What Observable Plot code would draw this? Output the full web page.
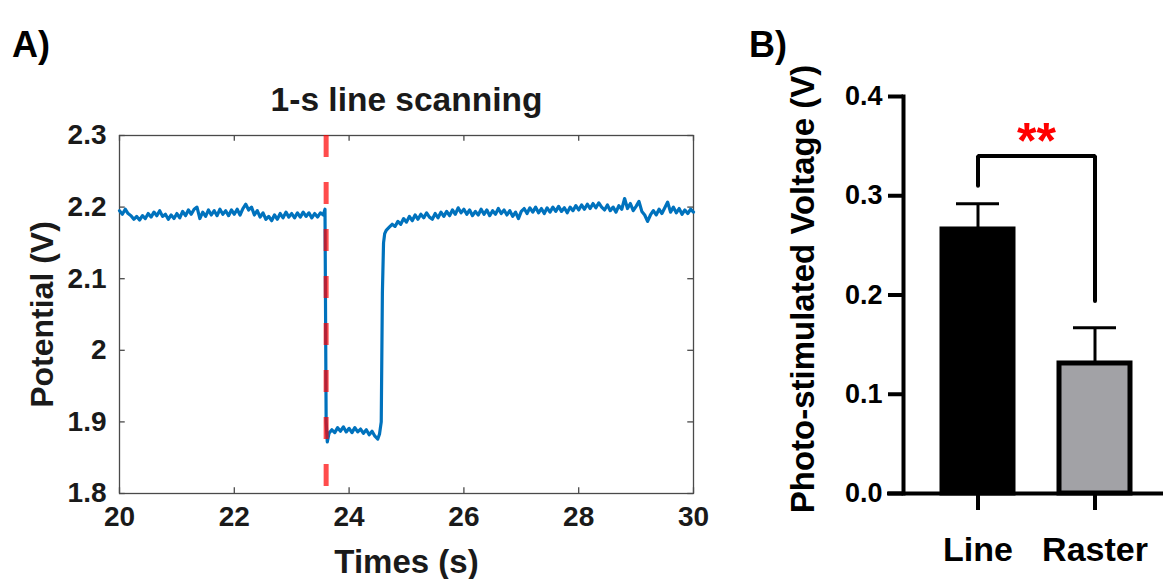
<!DOCTYPE html>
<html>
<head>
<meta charset="utf-8">
<script src="https://cdn.jsdelivr.net/npm/d3@7"></script>
<script src="https://cdn.jsdelivr.net/npm/@observablehq/plot@0.6"></script>
<style>
  html, body { margin: 0; padding: 0; background: #fff; }
  #root { position: relative; width: 1163px; height: 579px; overflow: hidden; background: #fff; }
  .panel { position: absolute; top: 0; }
  .tag { position: absolute; font-family: "Liberation Sans", Arial, sans-serif; font-weight: bold; font-size: 36px; color: #000; line-height: 1; }
</style>
</head>
<body>
<div id="root">
  <div class="tag" style="left:12px; top:27px;">A)</div>
  <div class="tag" style="left:749px; top:27px;">B)</div>
  <div id="panelA" class="panel" style="left:0px;"></div>
  <div id="panelB" class="panel" style="left:720px;"></div>
</div>
<script>
// ---------- Panel A data: 1-s line scanning trace ----------
const timeS = [
  20.00,20.05,20.10,20.15,20.20,20.25,20.30,20.35,20.40,20.45,20.50,20.55,20.60,20.65,20.70,20.75,20.80,20.85,20.90,20.95,
  21.00,21.05,21.10,21.15,21.20,21.25,21.30,21.35,21.40,21.45,21.50,21.55,21.60,21.65,21.70,21.75,21.80,21.85,21.90,21.95,
  22.00,22.05,22.10,22.15,22.20,22.25,22.30,22.35,22.40,22.45,22.50,22.55,22.60,22.65,22.70,22.75,22.80,22.85,22.90,22.95,
  23.00,23.05,23.10,23.15,23.20,23.25,23.30,23.35,23.40,23.45,23.50,23.55,23.58,23.60,23.62,23.65,23.70,23.75,23.80,23.85,
  23.90,23.95,24.00,24.05,24.10,24.15,24.20,24.25,24.30,24.35,24.40,24.45,24.50,24.53,24.56,24.58,24.60,24.62,24.65,24.70,
  24.75,24.80,24.85,24.90,24.95,25.00,25.05,25.10,25.15,25.20,25.25,25.30,25.35,25.40,25.45,25.50,25.55,25.60,25.65,25.70,
  25.75,25.80,25.85,25.90,25.95,26.00,26.05,26.10,26.15,26.20,26.25,26.30,26.35,26.40,26.45,26.50,26.55,26.60,26.65,26.70,
  26.75,26.80,26.85,26.90,26.95,27.00,27.05,27.10,27.15,27.20,27.25,27.30,27.35,27.40,27.45,27.50,27.55,27.60,27.65,27.70,
  27.75,27.80,27.85,27.90,27.95,28.00,28.05,28.10,28.15,28.20,28.25,28.30,28.35,28.40,28.45,28.50,28.55,28.60,28.65,28.70,
  28.75,28.80,28.85,28.90,28.95,29.00,29.05,29.10,29.15,29.20,29.25,29.30,29.35,29.40,29.45,29.50,29.55,29.60,29.65,29.70,
  29.75,29.80,29.85,29.90,29.95,30.00
];
const potentialV = [
  2.195,2.190,2.197,2.191,2.188,2.183,2.187,2.182,2.188,2.184,2.191,2.186,2.193,2.188,2.195,2.187,2.190,2.183,2.189,2.184,
  2.191,2.185,2.194,2.188,2.196,2.190,2.197,2.200,2.184,2.193,2.187,2.196,2.189,2.195,2.188,2.197,2.190,2.195,2.188,2.196,
  2.190,2.197,2.189,2.198,2.204,2.196,2.200,2.189,2.195,2.186,2.192,2.183,2.187,2.181,2.189,2.183,2.191,2.185,2.193,2.186,
  2.191,2.185,2.192,2.186,2.193,2.187,2.192,2.185,2.191,2.186,2.192,2.189,2.197,1.900,1.872,1.884,1.889,1.885,1.892,1.887,
  1.893,1.886,1.891,1.885,1.892,1.886,1.890,1.884,1.889,1.882,1.887,1.880,1.876,1.883,1.900,2.080,2.150,2.163,2.168,2.172,
  2.176,2.173,2.180,2.176,2.184,2.179,2.187,2.181,2.189,2.183,2.190,2.185,2.192,2.186,2.183,2.191,2.185,2.193,2.187,2.194,
  2.188,2.196,2.190,2.199,2.192,2.197,2.190,2.196,2.188,2.194,2.189,2.197,2.190,2.196,2.188,2.195,2.190,2.198,2.191,2.196,
  2.189,2.195,2.187,2.193,2.184,2.194,2.198,2.191,2.199,2.193,2.200,2.192,2.198,2.191,2.199,2.193,2.200,2.194,2.201,2.194,
  2.199,2.192,2.200,2.195,2.202,2.196,2.203,2.197,2.204,2.198,2.205,2.199,2.206,2.200,2.196,2.203,2.195,2.200,2.193,2.202,
  2.197,2.212,2.198,2.205,2.195,2.201,2.208,2.194,2.189,2.180,2.189,2.195,2.189,2.197,2.191,2.199,2.207,2.193,2.200,2.192,
  2.198,2.190,2.196,2.191,2.197,2.193
];
const stimOnsetS = [23.6];
const xTicksA = [20, 22, 24, 26, 28, 30];
const yTicksA = [1.8, 1.9, 2.0, 2.1, 2.2, 2.3];
const titleA = "1-s line scanning";
const xLabelA = "Times (s)";
const yLabelA = "Potential (V)";

// ---------- Panel B data: photo-stimulated voltage ----------
const scanModes = ["Line", "Raster"];
const meanVoltage = [0.266, 0.131];
const semVoltage = [0.026, 0.036];
const barFills = ["#000000", "#a2a2a6"];
const bracketLegs = [0.310, 0.194];
const bracketTop = 0.340;
const sigMark = "**";
const yTicksB = [0, 0.1, 0.2, 0.3, 0.4];
const yLabelB = "Photo-stimulated Voltage (V)";

// ---------- Panel A ----------
const trace = timeS.map((t, i) => ({t, v: potentialV[i]}));
const fontA = "'Liberation Sans', Arial, sans-serif";
const inkA = "#1a1a1a";
const frameInk = "#4a4a4a";

const plotA = Plot.plot({
  width: 720,
  height: 579,
  marginLeft: 119,
  marginRight: 27,
  marginTop: 135,
  marginBottom: 86,
  style: {fontFamily: fontA, color: inkA, background: "transparent", overflow: "visible"},
  x: {domain: [20, 30]},
  y: {domain: [1.8, 2.3]},
  marks: [
    Plot.frame({stroke: frameInk, strokeWidth: 1.3}),
    // inward ticks (bottom/top/left/right)
    Plot.ruleX(xTicksA, {x: d => d, y1: 1.8, y2: 1.808, stroke: frameInk, strokeWidth: 1.3}),
    Plot.ruleX(xTicksA, {x: d => d, y1: 2.3, y2: 2.292, stroke: frameInk, strokeWidth: 1.3}),
    Plot.ruleY(yTicksA, {y: d => d, x1: 20, x2: 20.1, stroke: frameInk, strokeWidth: 1.3}),
    Plot.ruleY(yTicksA, {y: d => d, x1: 30, x2: 29.9, stroke: frameInk, strokeWidth: 1.3}),
    Plot.axisX({ticks: xTicksA, tickSize: 0, tickPadding: 13, label: null, fontSize: 28, fontWeight: "bold", tickFormat: d => String(d)}),
    Plot.axisY({ticks: yTicksA, tickSize: 0, tickPadding: 13, label: null, fontSize: 28, fontWeight: "bold", tickFormat: d => String(d)}),
    Plot.line(trace, {x: "t", y: "v", stroke: "#0072BD", strokeWidth: 3.2, strokeLinejoin: "round"}),
    Plot.ruleX(stimOnsetS, {x: d => d, stroke: "#ff0000", strokeOpacity: 0.7, strokeWidth: 5, strokeDasharray: "22,25"}),
    Plot.text([titleA], {frameAnchor: "top", dy: -35, lineAnchor: "middle", textAnchor: "middle", fontSize: 33.5, fontWeight: "bold", fill: inkA}),
    Plot.text([xLabelA], {frameAnchor: "bottom", dy: 69, lineAnchor: "middle", textAnchor: "middle", fontSize: 33, fontWeight: "bold", fill: inkA}),
    Plot.text([yLabelA], {frameAnchor: "left", dx: -77, rotate: -90, lineAnchor: "middle", textAnchor: "middle", fontSize: 32, fontWeight: "bold", fill: inkA})
  ]
});
document.getElementById("panelA").appendChild(plotA);

// ---------- Panel B ----------
const bars = scanModes.map((m, i) => ({mode: m, mean: meanVoltage[i], top: meanVoltage[i] + semVoltage[i], fill: barFills[i]}));
const bracket = [
  {mode: scanModes[0], y: bracketLegs[0]},
  {mode: scanModes[0], y: bracketTop},
  {mode: scanModes[1], y: bracketTop},
  {mode: scanModes[1], y: bracketLegs[1]}
];
const fontB = "'Liberation Sans', Arial, sans-serif";

const plotB = Plot.plot({
  width: 443,
  height: 579,
  marginLeft: 183,
  marginRight: 0,
  marginTop: 96,
  marginBottom: 86,
  style: {fontFamily: fontB, color: "#000", background: "transparent", overflow: "visible"},
  x: {domain: scanModes, paddingInner: 0.39, paddingOuter: 0.304, align: 0.55},
  y: {domain: [0, 0.4]},
  marks: [
    Plot.barY(bars, {x: "mode", y: "mean", fill: "fill", stroke: "#000", strokeWidth: 5}),
    Plot.ruleX(bars, {x: "mode", y1: "mean", y2: "top", stroke: "#000", strokeWidth: 3}),
    Plot.tickY(bars, {x: "mode", y: "top", stroke: "#000", strokeWidth: 3, insetLeft: 14, insetRight: 14}),
    Plot.line(bracket, {x: "mode", y: "y", stroke: "#000", strokeWidth: 4, strokeLinejoin: "miter"}),
    Plot.text([sigMark], {frameAnchor: "top", y: 0.354, dx: 3, fill: "#ff0000", fontSize: 50, fontWeight: "bold", lineAnchor: "middle", textAnchor: "middle"}),
    Plot.frame({anchor: "left", stroke: "#000", strokeWidth: 4}),
    Plot.ruleY([0], {stroke: "#000", strokeWidth: 4, insetLeft: -16}),
    Plot.axisY({ticks: yTicksB, tickSize: 15, tickPadding: 6, strokeWidth: 4, label: null, fontSize: 27, fontWeight: "bold", tickFormat: d3.format(".1f")}),
    Plot.axisX({tickSize: 17, tickPadding: 26, strokeWidth: 4, label: null, fontSize: 34, fontWeight: "bold"}),
    Plot.text([yLabelB], {frameAnchor: "left", dx: -100, dy: -6, rotate: -90, lineAnchor: "middle", textAnchor: "middle", fontSize: 33, fontWeight: "bold", fill: "#000"})
  ]
});
document.getElementById("panelB").appendChild(plotB);
</script>
</body>
</html>
